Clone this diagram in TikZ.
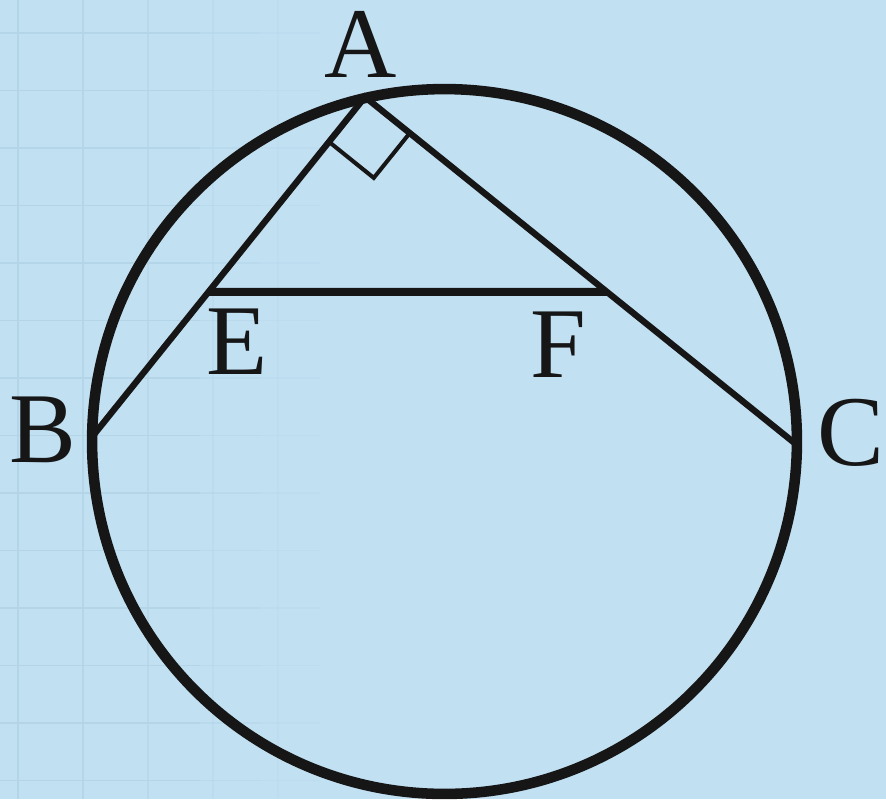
\documentclass[tikz,border=0pt]{standalone}
\usepackage{fontspec}
\setmainfont{Liberation Serif}
\usetikzlibrary{calc}
\definecolor{bgblue}{RGB}{193,224,242}
\definecolor{gridblue}{RGB}{180,212,232}
\definecolor{inkblack}{RGB}{22,22,22}
\tikzset{
  gridline/.style={gridblue, line width=1.1pt},
  ptlabel/.style={inner sep=0pt, text=inkblack, font=\fontsize{57}{57}\selectfont},
}
\begin{document}
\begin{tikzpicture}[x=0.02cm, y=-0.02cm]
\fill[bgblue] (0,0) rectangle (886,799);
\useasboundingbox (0,0) rectangle (886,799);

% faint squared paper on the left
\foreach \y in {33,90.5,148,205.5,263,320.5,378,435.5,493,550.5,608,665.5,723,780.5}{
  \draw[gridline] (0,\y) -- (200,\y);
  \draw[gridline, opacity=0.55] (200,\y) -- (260,\y);
  \draw[gridline, opacity=0.25] (260,\y) -- (320,\y);
}
\foreach \x/\o in {18/1,83/0.9,148/0.6,213/0.4,278/0.2}
  \draw[gridline, opacity=\o] (\x,0) -- (\x,799);

\coordinate (O) at (444.5,441.5);
\coordinate (A) at (365,97);
\coordinate (B) at (92,437);
\coordinate (C) at (797,445);
\coordinate (E) at ($(A)!0.573!(B)$);
\coordinate (F) at ($(A)!0.56!(C)$);

\draw[inkblack, line width=6pt] (O) circle[radius=7.05cm];
\draw[inkblack, line width=3.6pt, line join=miter] (B) -- (A) -- (C);
\draw[inkblack, line width=4.6pt] (E) -- (F);

% right angle at A
\coordinate (ab) at ($(A)!1.15cm!(B)$);
\coordinate (ac) at ($(A)!1.15cm!(C)$);
\draw[inkblack, line width=2.3pt] (ab) -- ($(ab)+(ac)-(A)$) -- (ac);

\node[ptlabel] (lA) at (361,44) {A};
\node[ptlabel] (lB) at (43,430) {B};
\node[ptlabel] (lC) at (851,433) {C};
\node[ptlabel] (lE) at (237,342) {E};
\node[ptlabel] (lF) at (558,345) {F};
\end{tikzpicture}
\end{document}
